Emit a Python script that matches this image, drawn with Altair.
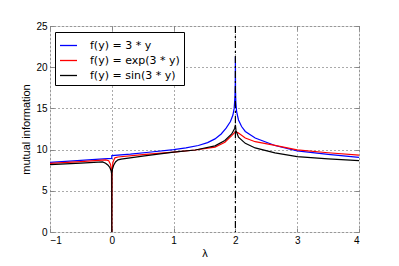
import altair as alt
import pandas as pd

S1 = "f(y) = 3 * y"
S2 = "f(y) = exp(3 * y)"
S3 = "f(y) = sin(3 * y)"

blue_x = [-1, -0.5, -0.2, -0.001, 0.001, 0.3, 0.6, 1.0, 1.2, 1.4, 1.55, 1.67, 1.77, 1.85, 1.92, 1.96, 1.98,
          1.993, 1.998, 2.0, 2.002, 2.007, 2.02, 2.05, 2.1, 2.16, 2.32, 2.64, 3.0, 3.5, 4.0]
blue_y = [8.46, 8.7, 8.85, 8.93, 9.28, 9.45, 9.68, 10.0, 10.2, 10.5, 10.85, 11.3, 11.9, 12.6, 13.4, 14.2, 15.0,
          16.4, 18.0, 21.3, 17.2, 15.8, 14.6, 13.6, 12.8, 12.2, 11.4, 10.5, 9.85, 9.42, 9.06]

red_x = [-1, -0.5, -0.1, -0.05, -0.02, -0.005, 0.0, 0.005, 0.02, 0.05, 0.1, 0.5, 1.0, 1.35, 1.67,
         1.83, 1.94, 1.99, 2.0, 2.01, 2.05, 2.16, 2.32, 2.64, 3.0, 3.5, 4.0]
red_y = [8.34, 8.55, 8.75, 8.65, 8.2, 7.4, 0.0, 7.6, 8.5, 9.0, 9.1, 9.4, 9.7, 9.95, 10.3,
         10.9, 11.7, 12.1, 12.2, 12.15, 12.0, 11.4, 10.96, 10.52, 9.97, 9.62, 9.34]

black_x = [-1, -0.5, -0.15, -0.1, -0.06, -0.03, -0.01, -0.001, 0.0, 0.001, 0.01, 0.03, 0.06, 0.1,
           0.15, 0.5, 1.0, 1.35, 1.67, 1.83, 1.94, 1.99, 2.0, 2.01, 2.05, 2.16, 2.32, 2.64, 3.0, 3.5, 4.0]
black_y = [8.17, 8.35, 8.5, 8.35, 8.1, 7.8, 7.4, 7.0, 0.0, 7.1, 7.6, 8.1, 8.5, 8.75,
           8.85, 9.2, 9.7, 9.95, 10.45, 11.1, 11.9, 12.6, 13.0, 12.3, 11.5, 10.76, 10.2, 9.6, 9.14, 8.88, 8.65]

x_ticks = [-1, 0, 1, 2, 3, 4]
y_ticks = [0, 5, 10, 15, 20, 25]
vline_x = [2]

rows = []
for name, xs, ys in [(S1, blue_x, blue_y), (S2, red_x, red_y), (S3, black_x, black_y)]:
    for i, (a, b) in enumerate(zip(xs, ys)):
        rows.append({"x": a, "y": b, "series": name, "i": i})
df = pd.DataFrame(rows)
vdf = pd.DataFrame({"x": vline_x})

xscale = alt.Scale(domain=[-1, 4], nice=False, zero=False)
yscale = alt.Scale(domain=[0, 25], nice=False)

GRID = dict(grid=True, gridDash=[1, 3], gridColor="#555555", gridOpacity=1, gridWidth=1)

lines = alt.Chart(df).mark_line(strokeWidth=1.2, clip=True).encode(
    x=alt.X("x:Q", scale=xscale,
            axis=alt.Axis(values=x_ticks, title="λ", orient="bottom", offset=-4, tickSize=4,
                          labelPadding=3, domain=False, titlePadding=2, titleFontWeight="normal",
                          labelExpr="replace(datum.label, '-', '−')", **GRID)),
    y=alt.Y("y:Q", scale=yscale,
            axis=alt.Axis(values=y_ticks, title="mutual information", orient="left", offset=-4,
                          tickSize=4, labelPadding=3, domain=False, titlePadding=4,
                          titleFontWeight="normal", **GRID)),
    color=alt.Color("series:N",
                    scale=alt.Scale(domain=[S1, S2, S3], range=["#0000ff", "#ff0000", "#000000"]),
                    legend=alt.Legend(title=None, orient="none", legendX=5, legendY=6,
                                      symbolType="stroke", symbolSize=289, symbolStrokeWidth=1.3,
                                      labelFontSize=11, labelFont="DejaVu Sans", labelOffset=12,
                                      padding=4, rowPadding=0, strokeColor="#000000",
                                      fillColor="#ffffff", labelColor="#000000")),
    order="i:Q",
)

vline = alt.Chart(vdf).mark_rule(color="#000000", strokeWidth=1.2, strokeDash=[7, 3, 2, 3]).encode(
    x=alt.X("x:Q", scale=xscale,
            axis=alt.Axis(values=x_ticks, orient="top", offset=-4, tickSize=4, labels=False,
                          domain=False, title=None, grid=False)),
)

ticks_right = alt.Chart(df).mark_point(opacity=0).encode(
    x=alt.X("x:Q", scale=xscale, axis=None),
    y=alt.Y("y:Q", scale=yscale,
            axis=alt.Axis(values=y_ticks, orient="right", offset=-4, tickSize=4, labels=False,
                          domain=False, title=None, grid=False)),
)

chart = alt.layer(lines, vline, ticks_right).resolve_axis(x="independent", y="independent").properties(
    width=309, height=206,
    autosize=alt.AutoSizeParams(type="none"),
    padding={"left": 42, "top": 18, "right": 32, "bottom": 26},
).configure_view(stroke="#000000", strokeWidth=1.2).configure_axis(
    labelFont="DejaVu Sans", labelFontSize=10, labelColor="#000000",
    titleFont="DejaVu Sans", titleFontSize=10, titleFontWeight="normal", titleColor="#000000",
    tickColor="#000000", tickWidth=1,
).configure(background="#ffffff")

chart.save("out.html", embed_options={"renderer": "svg", "actions": False})
